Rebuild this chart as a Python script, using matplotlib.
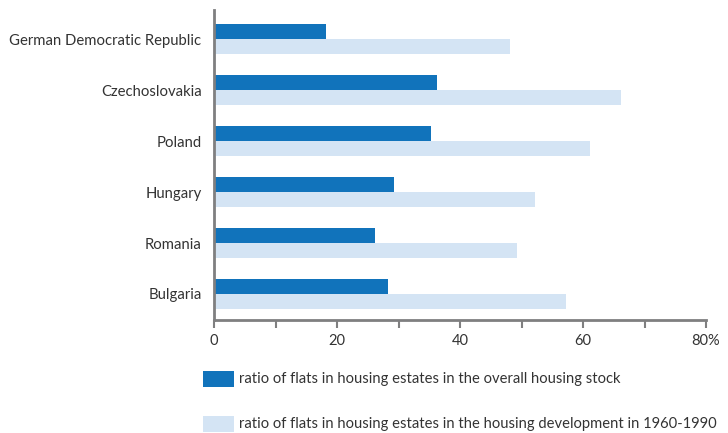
import matplotlib.pyplot as plt
from matplotlib.patches import Rectangle

# data
countries = ["German Democratic Republic", "Czechoslovakia", "Poland",
             "Hungary", "Romania", "Bulgaria"]
overall_stock = [18.2, 36.3, 35.3, 29.3, 26.2, 28.3]
development_1960_1990 = [48.1, 66.2, 61.1, 52.2, 49.3, 57.2]
tick_values = [0, 20, 40, 60, 80]
tick_labels = ["0", "20", "40", "60", "80%"]
legend_labels = ["ratio of flats in housing estates in the overall housing stock",
                 "ratio of flats in housing estates in the housing development in 1960-1990"]

dark = "#1173bb"
light = "#d4e4f4"
axis_grey = "#7f7f80"
text_col = "#333333"

plt.rcParams["font.family"] = ["Lato", "DejaVu Sans"]

fig = plt.figure(figsize=(7.28, 4.33), dpi=100)
ax = fig.add_axes([214 / 728, 1 - 320 / 433, (706 - 214) / 728, 310 / 433])

n = len(countries)
pos = [n - 1 - i for i in range(n)]
h = 0.295
ax.barh([p + h / 2 for p in pos], overall_stock, height=h, color=dark)
ax.barh([p - h / 2 for p in pos], development_1960_1990, height=h, color=light)

ax.set_xlim(0, 80)
ax.set_ylim(-0.51, n - 1 + 0.57)
ax.set_yticks(pos)
ax.set_yticklabels(countries, fontsize=10.7, color=text_col)
ax.tick_params(axis="y", length=0, pad=9)

ax.set_xticks(tick_values)
ax.set_xticklabels(tick_labels, fontsize=10.5, color=text_col)
ax.set_xticks([10, 30, 50, 70], minor=True)
ax.tick_params(axis="x", which="both", direction="out", length=6, width=1.5,
               color=axis_grey, pad=4)

for s in ["top", "right"]:
    ax.spines[s].set_visible(False)
for s in ["left", "bottom"]:
    ax.spines[s].set_color(axis_grey)
    ax.spines[s].set_linewidth(2)

# legend drawn below the chart
for i, (lab, col) in enumerate(zip(legend_labels, [dark, light])):
    yc = 379 + i * 45
    fig.add_artist(Rectangle((203 / 728, 1 - (yc + 8) / 433), 31 / 728, 16 / 433,
                             transform=fig.transFigure, color=col, lw=0))
    fig.text(239 / 728, 1 - yc / 433, lab, fontsize=10.6, color=text_col, va="center")

plt.savefig("out.png", dpi=100)
